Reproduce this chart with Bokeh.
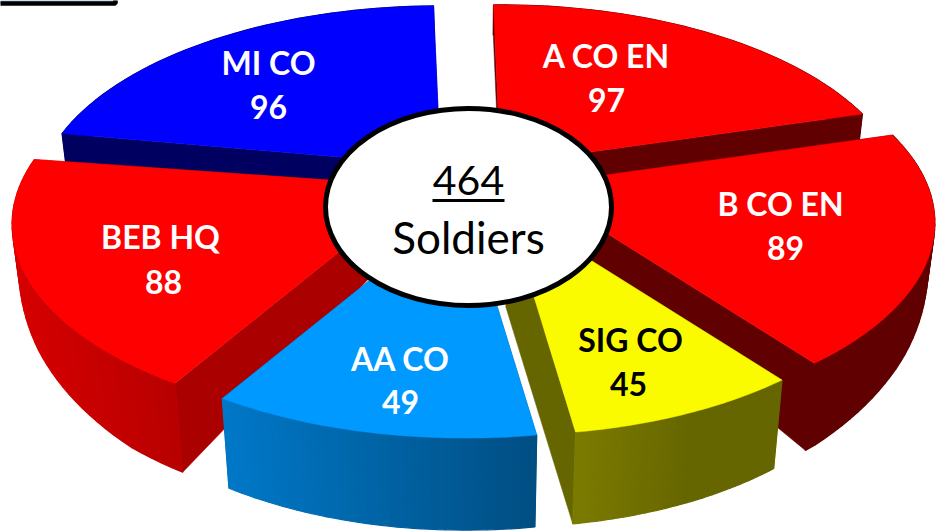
import numpy as np
from bokeh.plotting import figure
from bokeh.models import Range1d
from bokeh.core.properties import value
from bokeh.embed import file_html
from bokeh.resources import INLINE

# ---- data ----
CATEGORIES = ["A CO EN", "B CO EN", "SIG CO", "AA CO", "BEB HQ", "MI CO"]
VALUES = [97, 89, 45, 49, 88, 96]
CENTER_UNIT = "Soldiers"

# ---- layout / style (screen pixels, not data) ----
START_ANGLE = -1.2
ANGLE_ADJUST = [-0.3, -0.2, -5.9, 1.2, -0.8, 6.0]
SLICE_TRIM = {"MI CO": (1.7, 0.0)}
APEX = {"A CO EN": (500, 164), "B CO EN": (530, 185), "SIG CO": (506, 207),
        "AA CO": (465, 203), "BEB HQ": (420, 186), "MI CO": (440, 165)}
RADIUS = {"SIG CO": 0.97, "BEB HQ": 1.01}
APEX_DEPTH = {"SIG CO": 100}
TOP = {"A CO EN": "#FF0000", "B CO EN": "#FF0000", "SIG CO": "#FBFB00",
       "AA CO": "#0099FF", "BEB HQ": "#FF0000", "MI CO": "#0000FF"}
CUT = {"A CO EN": "#600000", "B CO EN": "#600000", "SIG CO": "#666600",
       "AA CO": "#004E82", "BEB HQ": "#AA0000", "MI CO": "#000060"}
SIDE = {"A CO EN": ("#600000", "#600000"), "B CO EN": ("#600000", "#600000"),
        "SIG CO": ("#7C7B00", "#666600"), "AA CO": ("#0078C8", "#004E82"),
        "BEB HQ": ("#D60000", "#B80000"), "MI CO": ("#000060", "#000060")}
GRAD_SPEED = {"SIG CO": 1.8}
LABEL_POS = {"A CO EN": (606, 55, 606, 99), "B CO EN": (780, 203, 785, 247),
             "SIG CO": (630, 339, 628, 383), "AA CO": (400, 358, 400, 401),
             "BEB HQ": (160, 236, 163, 281), "MI CO": (268, 62, 268, 106)}
LABEL_COLOR = {"SIG CO": "black"}
DRAW_ORDER = ["MI CO", "A CO EN", "BEB HQ", "B CO EN", "AA CO", "SIG CO"]
W, B, K, CX = 397.0, 190.0, 5.26, 470.0
DEPTH_Y = [100, 165, 205, 280, 360, 385, 435]
DEPTH_D = [30, 30, 45, 68, 87, 89, 92]
FONT = value("Lato")


def project(cat, theta_deg):
    t = np.radians(theta_deg)
    X, Y = np.sin(t), -np.cos(t)
    s = K / (K - Y)
    r = RADIUS.get(cat, 1.0)
    ax, ay = APEX[cat]
    return ax + r * W * X * s, ay + r * B * Y * s


def extrude(x, y):
    d = np.interp(y, DEPTH_Y, DEPTH_D)
    return x - (x - CX) * d * 0.0003, y + d


def hex2rgb(h):
    return np.array([int(h[i:i + 2], 16) for i in (1, 3, 5)], dtype=float)


def lerp(c0, c1, f):
    c = hex2rgb(c0) * (1 - f) + hex2rgb(c1) * f
    return "#%02x%02x%02x" % tuple(int(round(v)) for v in c)


p = figure(width=937, height=532, output_backend="svg", toolbar_location=None,
           x_range=Range1d(0, 937), y_range=Range1d(532, 0), min_border=0,
           margin=(0, 0, 0, 0))
p.axis.visible = False
p.grid.visible = False
p.outline_line_color = None
p.background_fill_color = "white"
p.border_fill_color = "white"

total = sum(VALUES)
spans = [v / total * 360 + a for v, a in zip(VALUES, ANGLE_ADJUST)]
edges = START_ANGLE + np.concatenate([[0], np.cumsum(spans)])
ANGLES = {c: (edges[i], edges[i + 1]) for i, c in enumerate(CATEGORIES)}

# top-left fragment of a box, cropped by the slide edge
p.quad(left=-6, right=115, top=-6, bottom=3, fill_color="#9DC3E6", line_color="black", line_width=4.5)

for cat in DRAW_ORDER:
    a0, a1 = ANGLES[cat]
    t0, t1 = SLICE_TRIM.get(cat, (0.0, 0.0))
    th = np.linspace(a0 + t0, a1 - t1, 41)
    ox, oy = project(cat, th)
    bx, by = extrude(ox, oy)
    ax, ay = APEX[cat]
    abx, aby = extrude(np.array([ax], dtype=float), np.array([ay], dtype=float))
    abx, aby = abx[0], aby[0]
    if cat in APEX_DEPTH:
        aby = ay + APEX_DEPTH[cat]
    # cut faces
    for k in (0, -1):
        p.patch([ax, ox[k], bx[k], abx], [ay, oy[k], by[k], aby],
                fill_color=CUT[cat], line_color=CUT[cat], line_width=0.5)
    # rounded side with horizontal shading
    xs, ys, cols = [], [], []
    xmin, xmax = ox.min(), ox.max()
    c0, c1 = SIDE[cat]
    speed = GRAD_SPEED.get(cat, 1.0)
    for i in range(len(th) - 1):
        xs.append([ox[i], ox[i + 1], bx[i + 1], bx[i]])
        ys.append([oy[i], oy[i + 1], by[i + 1], by[i]])
        f = (0.5 * (ox[i] + ox[i + 1]) - xmin) / (xmax - xmin)
        cols.append(lerp(c0, c1, min(1.0, f * speed)))
    p.patches(xs, ys, fill_color=cols, line_color=cols, line_width=1.2)
    # top face
    p.patch(np.r_[ax, ox], np.r_[ay, oy], fill_color=TOP[cat], line_color=TOP[cat], line_width=0.5)

# labels
for cat, v in zip(CATEGORIES, VALUES):
    lx, y1, nx, y2 = LABEL_POS[cat]
    col = LABEL_COLOR.get(cat, "white")
    for txt, xx, yy in ((cat, lx, y1), (str(v), nx, y2)):
        p.text(x=[xx], y=[yy], text=[txt], text_font=FONT, text_font_style="bold",
               text_font_size="32px", text_color=col, text_align="center", text_baseline="middle")

# centre
p.ellipse(x=[468], y=[206.5], width=[286], height=[197], fill_color="white",
          line_color="black", line_width=5)
p.text(x=[468], y=[180], text=[str(total)], text_font=FONT, text_font_size="41px",
       text_color="black", text_align="center", text_baseline="middle")
p.segment(x0=[432], x1=[504], y0=[200], y1=[200], line_color="black", line_width=3)
p.text(x=[468], y=[236], text=[CENTER_UNIT], text_font=FONT, text_font_size="44px",
       text_color="black", text_align="center", text_baseline="middle")

open("out.html", "w").write(file_html(p, INLINE))
